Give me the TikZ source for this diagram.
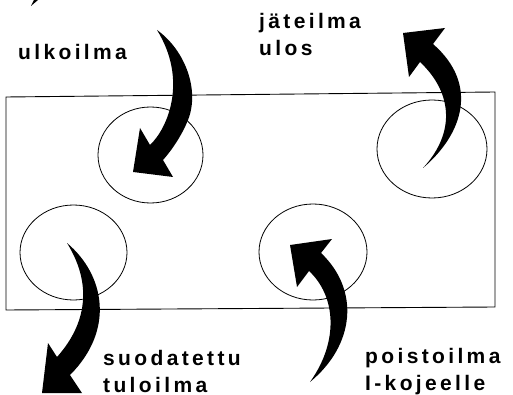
\documentclass[tikz,border=0pt]{standalone}
\usepackage{fontspec}
\setmainfont{Liberation Sans}
\newfontfamily\lblfont{Liberation Sans}[LetterSpace=16]
\usetikzlibrary{shapes.geometric}
\tikzset{
  lbl/.style={anchor=base west, inner sep=0pt, align=left,
    font=\lblfont\bfseries\fontsize{21}{27}\selectfont},
  port/.style={ellipse, draw, line width=0.8pt, inner sep=0pt},
  flow/.style={fill=black},
  room/.style={draw, line width=0.9pt}
}
\begin{document}
\begin{tikzpicture}[x=1pt,y=-1pt]
\useasboundingbox (0,0) rectangle (513,395);
% stray mark
\fill (34,0) -- (38,0) -- (31,6) -- cycle;
% room
\draw[room] (6,97) -- (495,92) -- (495,307) -- (6,310) -- cycle;
% openings
\node[port, minimum width=105pt, minimum height=96pt] (c1) at (150.5,155) {};
\node[port, minimum width=110pt, minimum height=98pt] (c2) at (432,149) {};
\node[port, minimum width=107pt, minimum height=95pt] (c3) at (73.5,252.5) {};
\node[port, minimum width=108pt, minimum height=96pt] (c4) at (313,252) {};
% arrows
\fill[flow] (157,30) .. controls (185,50) and (200,90) .. (188,120)
  .. controls (182,135) and (172,150) .. (163,160) -- (173,177) -- (133,172)
  -- (140,128) -- (150,145) .. controls (168,128) and (188,80) .. (157,30) -- cycle;
\fill[flow] (423,168) .. controls (462,135) and (480,85) .. (433,44)
  -- (445,28) -- (403,33) -- (409,77) -- (420,62)
  .. controls (450,90) and (458,130) .. (423,168) -- cycle;
\fill[flow] (67,243) .. controls (105,275) and (115,330) .. (70,375)
  -- (82,393) -- (42,393) -- (48,343) -- (57,357)
  .. controls (90,320) and (90,280) .. (67,243) -- cycle;
\fill[flow] (310,382) .. controls (355,345) and (360,290) .. (321,253)
  -- (332,239) -- (290,245) -- (297,287) -- (309,271)
  .. controls (335,295) and (340,340) .. (310,382) -- cycle;
% labels (base anchor = baseline of the last line)
\node[lbl] (t1) at (18,60) {ulkoilma};
\node[lbl] (t2) at (259,56) {jäteilma\\ulos};
\node[lbl] (t3) at (103,392) {suodatettu\\tuloilma};
\node[lbl] (t4) at (365,390) {poistoilma\\I-kojeelle};
\end{tikzpicture}
\end{document}
